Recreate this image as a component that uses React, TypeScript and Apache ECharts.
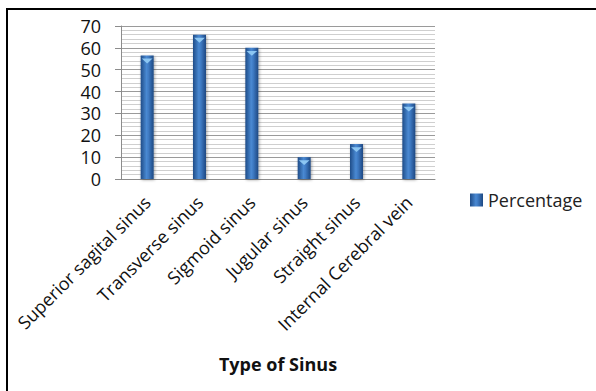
import React, { useEffect, useRef } from "react";
import * as echarts from "echarts";

const categories = [
  "Superior sagital sinus",
  "Transverse sinus",
  "Sigmoid sinus",
  "Jugular sinus",
  "Straight sinus",
  "Internal Cerebral vein",
];
const percentage = [56.5, 66, 60, 10, 16, 34.5];
const seriesName = "Percentage";
const axisTitle = "Type of Sinus";

const FONT = "'Open Sans', 'Noto Sans', sans-serif";

export default function App() {
  const ref = useRef<HTMLDivElement>(null);

  useEffect(() => {
    if (!ref.current) return;
    const chart = echarts.init(ref.current, null, { renderer: "svg" });

    const barFill = new echarts.graphic.LinearGradient(0, 0, 1, 0, [
      { offset: 0, color: "#1f4c88" },
      { offset: 0.45, color: "#4a89d2" },
      { offset: 0.6, color: "#3f7bc4" },
      { offset: 1, color: "#1d4882" },
    ]);

    chart.setOption({
      animation: false,
      backgroundColor: "#ffffff",
      textStyle: { fontFamily: FONT },
      grid: { left: 121, top: 26, width: 314, height: 153, containLabel: false },
      legend: {
        left: 470,
        top: 191,
        padding: 0,
        itemWidth: 13,
        itemHeight: 13,
        itemGap: 6,
        data: [{ name: seriesName, icon: "rect" }],
        textStyle: { fontSize: 18, color: "#222", fontFamily: FONT },
      },
      xAxis: {
        type: "category",
        data: categories,
        name: axisTitle,
        nameLocation: "middle",
        nameGap: 176,
        nameTextStyle: { fontSize: 18, fontWeight: "bold", color: "#111", fontFamily: FONT },
        axisLine: { show: true, lineStyle: { color: "#8c8c8c", width: 1 } },
        axisTick: { show: false },
        axisLabel: {
          rotate: 45,
          interval: 0,
          margin: 20,
          fontSize: 18,
          color: "#111",
          fontFamily: FONT,
        },
      },
      yAxis: {
        type: "value",
        min: 0,
        max: 70,
        interval: 10,
        axisLine: { show: true, lineStyle: { color: "#8c8c8c", width: 1 } },
        axisTick: { show: true, length: 6, lineStyle: { color: "#8c8c8c" } },
        axisLabel: { fontSize: 18, color: "#111", margin: 20, fontFamily: FONT },
        splitLine: { show: true, lineStyle: { color: "#9a9a9a", width: 1 } },
        minorTick: { show: false, splitNumber: 5 },
        minorSplitLine: { show: true, lineStyle: { color: "#cfcfcf", width: 1 } },
      },
      series: [
        {
          name: seriesName,
          type: "bar",
          data: percentage,
          barWidth: 13,
          itemStyle: {
            color: barFill,
            shadowColor: "rgba(0,0,0,0.35)",
            shadowBlur: 3,
            shadowOffsetX: 1,
            shadowOffsetY: 1,
          },
        },
        {
          name: "cap",
          type: "pictorialBar",
          data: percentage,
          symbol: "triangle",
          symbolRotate: 180,
          symbolSize: [11, 5],
          symbolPosition: "end",
          symbolOffset: [0, 3],
          barGap: "-100%",
          itemStyle: { color: "#8cc6f2" },
          silent: true,
          z: 3,
        },
      ],
      graphic: [
        {
          type: "line",
          shape: { x1: 6, y1: 9, x2: 596, y2: 9 },
          style: { stroke: "#000", lineWidth: 2 },
        },
        {
          type: "line",
          shape: { x1: 7, y1: 8, x2: 7, y2: 391 },
          style: { stroke: "#000", lineWidth: 2 },
        },
      ],
    });

    return () => chart.dispose();
  }, []);

  return (
    <div
      ref={ref}
      style={{ position: "fixed", left: 0, top: 0, width: 596, height: 391 }}
    />
  );
}
